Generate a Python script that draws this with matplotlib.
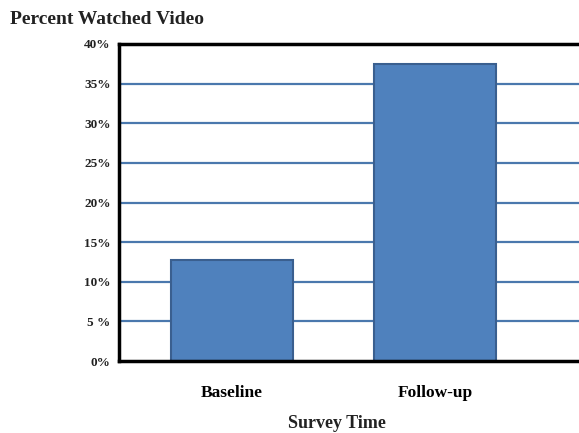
import matplotlib
matplotlib.use("Agg")
import matplotlib.pyplot as plt

categories = ["Baseline", "Follow-up"]
pct_watched = [12.7, 37.5]
y_ticks = [0, 5, 10, 15, 20, 25, 30, 35, 40]
tick_labels = ["0%", "5 %", "10%", "15%", "20%", "25%", "30%", "35%", "40%"]

plt.rcParams["font.family"] = ["Liberation Serif", "DejaVu Serif"]
plt.rcParams["font.weight"] = "bold"

W, H = 579, 433
fig = plt.figure(figsize=(W / 100, H / 100), dpi=100)
fig.patch.set_facecolor("white")

# plot area runs off the right edge of the figure
left_px, right_px, top_px, bottom_px = 119, 640, 44, 361
ax = fig.add_axes([left_px / W, 1 - bottom_px / H,
                   (right_px - left_px) / W, (bottom_px - top_px) / H])

x = list(range(len(categories)))
unit = 203.0
ax.set_xlim(-113 / unit, (right_px - 232) / unit)
ax.set_ylim(0, 40)

ax.set_yticks(y_ticks)
ax.set_yticklabels(tick_labels)
for yt in y_ticks[1:-1]:
    ax.axhline(yt, color="#4a78ad", lw=1.6, zorder=1)

ax.bar(x, pct_watched, width=0.6, color="#4f81bd", edgecolor="#3a5f8f",
       linewidth=1.5, zorder=2)

ax.set_xticks(x)
ax.set_xticklabels(categories, fontsize=12.5, fontweight="bold")
ax.tick_params(axis="x", length=0, pad=17)
ax.tick_params(axis="y", length=0, pad=6, labelsize=9.5)
for lab in ax.get_yticklabels():
    lab.set_fontweight("bold")
    lab.set_color("#222222")

for side in ["left", "top", "bottom"]:
    ax.spines[side].set_linewidth(2.5)
    ax.spines[side].set_color("black")
ax.spines["right"].set_visible(False)

fig.text(337 / W, 1 - 423 / H, "Survey Time", fontsize=13, fontweight="bold",
         ha="center", va="center", color="#222222")
fig.text(10 / W, 1 - 20 / H, "Percent Watched Video", fontsize=14,
         fontweight="bold", ha="left", va="center", color="#222222")

fig.savefig("out.png", dpi=100)
